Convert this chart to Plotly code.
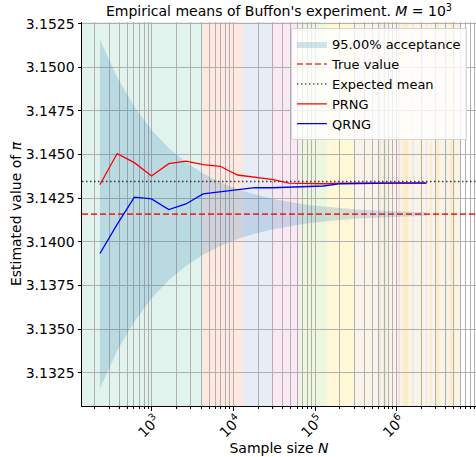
import plotly.graph_objects as go

# ---------------- data ----------------
N = [230, 374, 608, 988, 1604, 2606, 4233, 6878, 11171, 18147,
     29480, 47887, 77792, 126370, 205280, 333450, 541700, 879900, 1429300, 2321900]

prng = [3.14327, 3.14506, 3.14454, 3.14377, 3.14448, 3.14463, 3.14442, 3.14433, 3.14383, 3.14370,
        3.14358, 3.14337, 3.14334, 3.14333, 3.14336, 3.14337, 3.14338, 3.14338, 3.14338, 3.14338]

qrng = [3.13933, 3.14100, 3.14256, 3.14246, 3.14185, 3.14217, 3.14275, 3.14288, 3.14302, 3.14311,
        3.14310, 3.14313, 3.14317, 3.14320, 3.14333, 3.14335, 3.14336, 3.14336, 3.14336, 3.14336]

accept_upper = [3.15159, 3.14943, 3.14774, 3.14641, 3.14538, 3.14456, 3.14392, 3.14342, 3.14302, 3.14272,
                3.14247, 3.14228, 3.14213, 3.14202, 3.14192, 3.14185, 3.14180, 3.14175, 3.14172, 3.14169]
accept_lower = [3.13159, 3.13375, 3.13544, 3.13677, 3.13780, 3.13862, 3.13926, 3.13976, 3.14016, 3.14046,
                3.14071, 3.14090, 3.14105, 3.14116, 3.14126, 3.14133, 3.14138, 3.14143, 3.14146, 3.14149]

true_value = 3.14159
expected_mean = 3.14346

# background vertical spans (start N, end N, colour)
band_start = [139, 4217, 13050, 30400, 65200, 139600, 299000,
              590000, 679000, 1040000, 1190000, 1550000, 1950000, 2290000, 2570000, 3020000, 3980000, 4470000]
band_end = [4217, 13050, 30400, 65200, 139600, 299000, 5970000,
            641000, 739000, 1100000, 1380000, 1620000, 2040000, 2340000, 2690000, 3310000, 4070000, 5130000]
band_color = ["#66c2a5", "#fc8d62", "#8da0cb", "#e78ac3", "#a6d854", "#ffd92f", "#e5c494",
              "#b3b3b3", "#a6d854", "#e78ac3", "#ffd92f", "#b3b3b3", "#ffd92f", "#e78ac3",
              "#ffd92f", "#ffd92f", "#8da0cb", "#ffd92f"]

x_major = [1e3, 1e4, 1e5, 1e6]
x_major_text = ["10<sup>3</sup>", "10<sup>4</sup>", "10<sup>5</sup>", "10<sup>6</sup>"]
x_minor = [k * 10 ** d for d in range(2, 7) for k in range(2, 10)]
y_ticks = [3.1325, 3.1350, 3.1375, 3.1400, 3.1425, 3.1450, 3.1475, 3.1500, 3.1525]

x_range_log = [2.142, 6.972]
y_range = [3.13059, 3.15260]

# ---------------- figure ----------------
FONT = "DejaVu Sans"
fig = go.Figure()

x_lo, x_hi = 10 ** x_range_log[0], 10 ** x_range_log[1]

fig.add_trace(go.Scatter(x=N, y=accept_lower, mode="lines", line=dict(width=0),
                         showlegend=False, hoverinfo="skip"))
fig.add_trace(go.Scatter(x=N, y=accept_upper, mode="lines", line=dict(width=0),
                         fill="tonexty", fillcolor="rgba(31,119,180,0.2)",
                         name="95.00% acceptance"))
fig.add_trace(go.Scatter(x=[x_lo, x_hi], y=[true_value, true_value], mode="lines",
                         line=dict(color="rgba(255,0,0,0.8)", width=1.6, dash="6px,3px"),
                         name="True value"))
fig.add_trace(go.Scatter(x=[x_lo, x_hi], y=[expected_mean, expected_mean], mode="lines",
                         line=dict(color="rgba(0,0,0,0.75)", width=1.4, dash="1.5px,2.5px"),
                         name="Expected mean"))
fig.add_trace(go.Scatter(x=N, y=prng, mode="lines", line=dict(color="red", width=1.3),
                         name="PRNG"))
fig.add_trace(go.Scatter(x=N, y=qrng, mode="lines", line=dict(color="blue", width=1.3),
                         name="QRNG"))

shapes = []
for s, e, c in zip(band_start, band_end, band_color):
    shapes.append(dict(type="rect", xref="x", yref="paper", x0=s, x1=e, y0=0, y1=1,
                       fillcolor=c, opacity=0.2, line=dict(width=0), layer="below"))

fig.update_layout(
    width=476, height=457,
    margin=dict(l=82, r=0, t=22, b=51),
    paper_bgcolor="white", plot_bgcolor="white",
    font=dict(family=FONT, size=14, color="black"),
    shapes=shapes,
    title=dict(text="Empirical means of Buffon's experiment. <i>M</i> = 10<sup>3</sup>",
               x=0.5, xref="paper", xanchor="center",
               y=1 - 11.5 / 457, yref="container", yanchor="middle",
               font=dict(family=FONT, size=14)),
    legend=dict(x=0.977, xanchor="right", y=0.984, yanchor="top", traceorder="normal",
                bgcolor="rgba(255,255,255,0.8)", bordercolor="#d6d6d6", borderwidth=1,
                font=dict(family=FONT, size=13), tracegroupgap=0, itemwidth=30),
    showlegend=True,
)

fig.update_xaxes(
    type="log", range=x_range_log, autorange=False,
    tickmode="array", tickvals=x_major, ticktext=x_major_text, tickangle=-45,
    ticklabelshift=4, ticklabelstandoff=-4,
    ticks="outside", ticklen=3.5, tickwidth=0.8, tickcolor="black",
    showline=True, linecolor="black", linewidth=1, mirror=False,
    showgrid=True, gridcolor="#b0b0b0", gridwidth=0.8, zeroline=False,
    minor=dict(tickmode="array", tickvals=x_minor, ticks="outside", ticklen=2,
               tickwidth=0.6, tickcolor="black", showgrid=True, gridcolor="#b0b0b0", gridwidth=0.8),
    title=dict(text="Sample size <i>N</i>", standoff=2, font=dict(family=FONT, size=14)),
    tickfont=dict(family=FONT, size=14),
    automargin=False,
)
fig.update_yaxes(
    range=y_range, autorange=False,
    tickmode="array", tickvals=y_ticks, ticktext=[f"{v:.4f}" for v in y_ticks],
    ticks="outside", ticklen=3.5, tickwidth=0.8, tickcolor="black",
    showline=True, linecolor="black", linewidth=1, mirror=False,
    showgrid=True, gridcolor="#b0b0b0", gridwidth=0.8, zeroline=False,
    title=dict(text="Estimated value of <i>π</i>", standoff=0, font=dict(family=FONT, size=14)),
    tickfont=dict(family=FONT, size=14),
    automargin=False,
)

fig.write_html("out.html", config={"displayModeBar": False})

# remove the browser's default 8px body margin so the figure sits at the page origin
with open("out.html", "r", encoding="utf-8") as f:
    html = f.read()
html = html.replace("<body>", '<body style="margin:0;padding:0;">', 1)
with open("out.html", "w", encoding="utf-8") as f:
    f.write(html)
